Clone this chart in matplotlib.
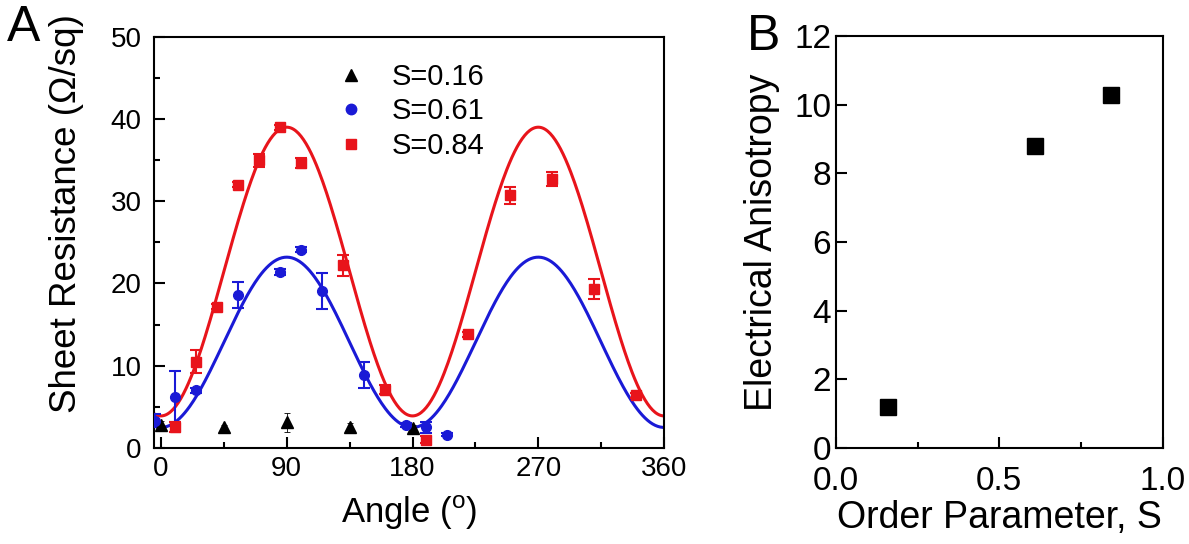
import numpy as np
import matplotlib
matplotlib.use("Agg")
import matplotlib.pyplot as plt
from matplotlib.lines import Line2D

plt.rcParams["font.family"] = ["Liberation Sans", "DejaVu Sans"]
plt.rcParams["mathtext.fontset"] = "custom"
plt.rcParams["mathtext.rm"] = "Liberation Sans"

# panel A: sheet resistance vs angle
ang_016 = [0, 45, 90, 135, 180]
res_016 = [2.8, 2.5, 3.1, 2.6, 2.4]
err_016 = [0.5, 0.3, 1.2, 0.4, 0.4]

ang_061 = [-4, 10, 25, 55, 85, 100, 115, 145, 175, 190, 205]
res_061 = [3.3, 6.2, 7.0, 18.6, 21.4, 24.1, 19.1, 8.9, 2.8, 2.5, 1.6]
err_061 = [0.8, 3.1, 0.3, 1.6, 0.4, 0.3, 2.2, 1.6, 0.2, 0.7, 0.2]

ang_084 = [10, 25, 40, 55, 70, 85, 100, 130, 160, 190, 220, 250, 280, 310, 340]
res_084 = [2.5, 10.5, 17.2, 32.0, 35.0, 39.0, 34.6, 22.2, 7.1, 1.0, 13.8, 30.7, 32.7, 19.3, 6.4]
err_084 = [0.6, 1.4, 0.3, 0.3, 0.8, 0.3, 0.6, 1.3, 0.5, 0.4, 0.3, 1.0, 0.8, 1.2, 0.3]

# sin^2 fits (min, max)
fit_061 = (2.5, 23.2)
fit_084 = (3.9, 39.0)

# panel B: anisotropy vs order parameter
order_s = [0.16, 0.61, 0.84]
anisotropy = [1.2, 8.8, 10.3]

RED = "#e8141b"
BLUE = "#1a1ad6"

fig = plt.figure(figsize=(11.89, 5.44), dpi=100)
axA = fig.add_axes([0.1295, 0.1765, 0.429, 0.756])
axB = fig.add_axes([0.703, 0.1765, 0.275, 0.757])

th = np.linspace(-5, 360, 400)
for (lo, hi), c in [(fit_061, BLUE), (fit_084, RED)]:
    axA.plot(th, lo + (hi - lo) * np.sin(np.radians(th)) ** 2, color=c, lw=2.2, zorder=2)

axA.errorbar(ang_016, res_016, yerr=err_016, fmt="^", color="black", ms=8,
             elinewidth=0.6, capsize=2, capthick=0.6, zorder=4)
axA.errorbar(ang_061, res_061, yerr=err_061, fmt="o", color=BLUE, ms=7,
             elinewidth=1.5, capsize=4, capthick=1.5, zorder=4)
axA.errorbar(ang_084, res_084, yerr=err_084, fmt="s", color=RED, ms=6.5,
             elinewidth=1.5, capsize=4, capthick=1.5, zorder=4)

handles = [Line2D([], [], ls="none", marker="^", color="black", ms=8),
           Line2D([], [], ls="none", marker="o", color=BLUE, ms=7.5),
           Line2D([], [], ls="none", marker="s", color=RED, ms=6.5)]
axA.legend(handles, ["S=0.16", "S=0.61", "S=0.84"], loc="upper left",
           bbox_to_anchor=(0.30, 1.0), frameon=False, fontsize=21,
           handletextpad=0.8, labelspacing=0.22, handlelength=1.2)

axA.set_xlim(-5, 360)
axA.set_ylim(0, 50)
axA.set_xticks([0, 90, 180, 270, 360])
axA.set_xticks([45, 135, 225, 315], minor=True)
axA.set_yticks([0, 10, 20, 30, 40, 50])
axA.set_yticks([5, 15, 25, 35, 45], minor=True)
axA.set_xlabel("Angle ($^\\mathrm{o}$)", fontsize=25, labelpad=8)
axA.set_ylabel("Sheet Resistance (\u03a9/sq)", fontsize=26.5)
axA.yaxis.set_label_coords(-0.137, 0.57)

axB.plot(order_s, anisotropy, "s", color="black", ms=12)
axB.set_xlim(0, 1.0)
axB.set_ylim(0, 12)
axB.set_xticks([0.0, 0.5, 1.0])
axB.set_xticklabels(["0.0", "0.5", "1.0"])
axB.set_xticks([0.25, 0.75], minor=True)
axB.set_yticks([0, 2, 4, 6, 8, 10, 12])
axB.set_xlabel("Order Parameter, S", fontsize=27, labelpad=2)
axB.set_ylabel("Electrical Anisotropy", fontsize=27, labelpad=10)

for ax in (axA, axB):
    for sp in ax.spines.values():
        sp.set_linewidth(1.5)
    ax.tick_params(which="both", direction="in", width=1.5,
                   top=False, right=False)
    ax.tick_params(which="major", length=8)
    ax.tick_params(which="minor", length=4)
axA.tick_params(labelsize=20)
axA.tick_params(axis="y", pad=9)
axA.tick_params(axis="x", pad=6)
axB.tick_params(labelsize=24)
axB.tick_params(axis="x", pad=13)

fig.text(0.006, 0.99, "A", fontsize=36, va="top", ha="left")
fig.text(0.628, 0.975, "B", fontsize=36, va="top", ha="left")

fig.savefig("out.png", dpi=100)
